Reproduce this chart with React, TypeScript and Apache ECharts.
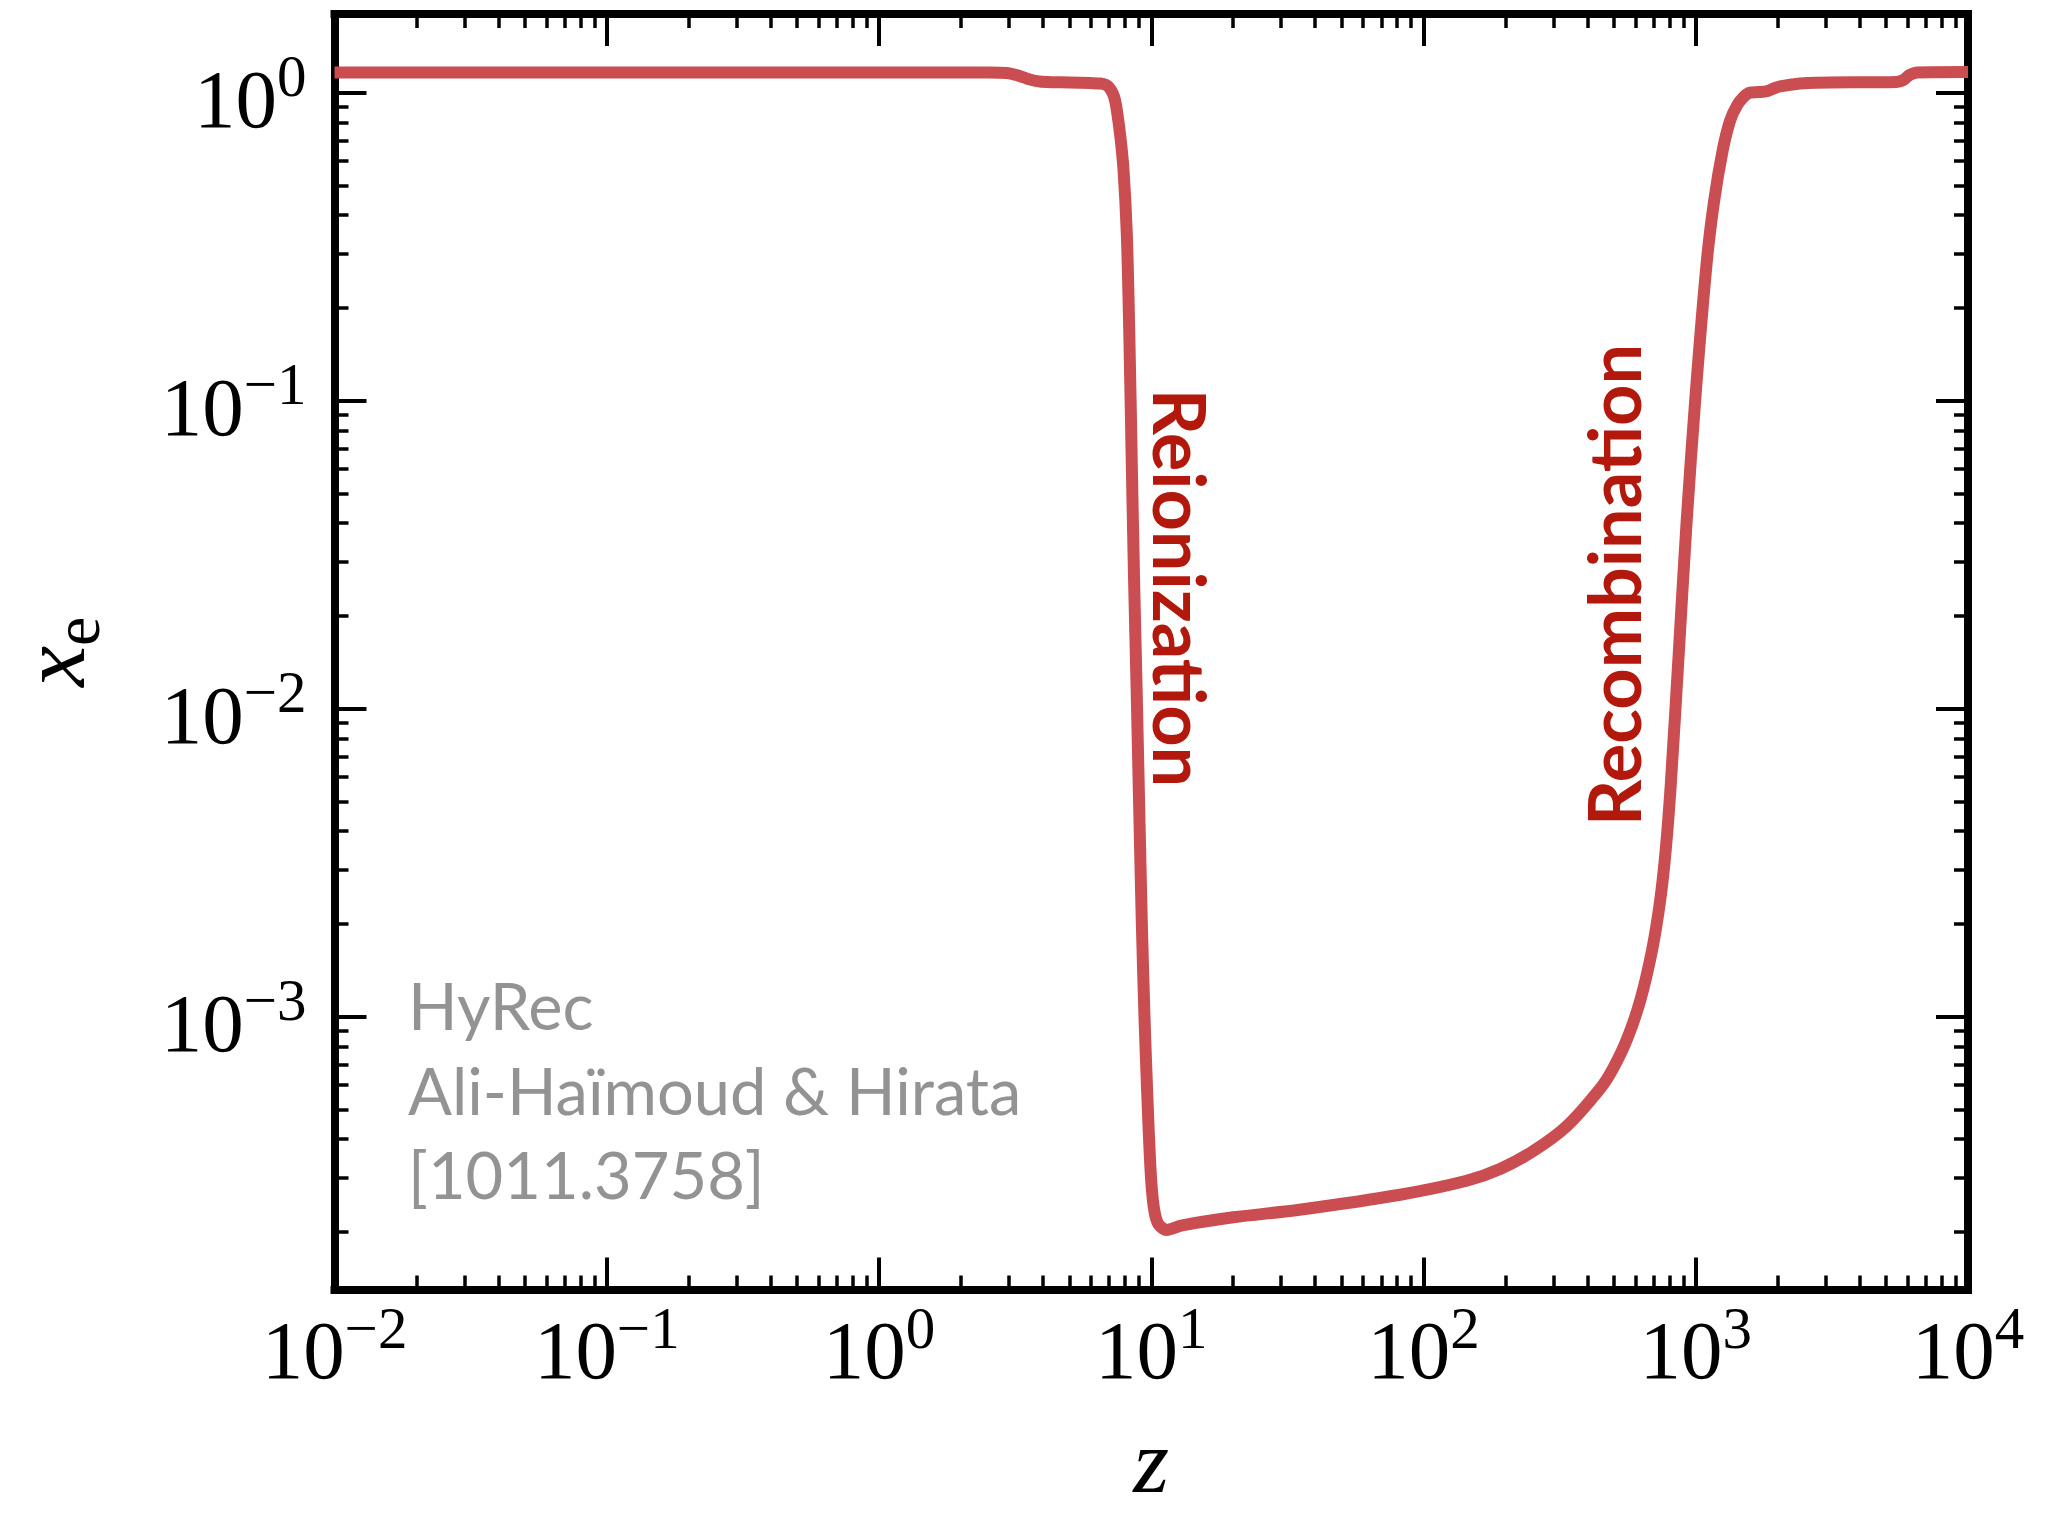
import React, { useEffect, useRef } from "react";
import * as echarts from "echarts";

// ---- data ----
const zValues = [
  0.01, 0.1, 1, 2.5, 2.95, 3.2, 3.5, 3.8, 4.14, 5.0, 6.0, 6.5, 6.8, 7.0, 7.2, 7.35, 7.5, 7.7, 7.9,
  8.13, 8.3, 8.48, 8.65, 8.84, 9.03, 9.23, 9.45, 9.7, 9.9, 10.1, 10.35, 10.7, 11.4, 13, 20, 35, 82,
  144, 191, 253, 336, 445, 495, 559, 627, 692, 741, 776, 810, 866, 925, 1000, 1098, 1169, 1256,
  1338, 1418, 1496, 1582, 1700, 1822, 1950, 2040, 2415, 2780, 4245, 5470, 5800, 6100, 6500, 10000,
];
const xeValues = [
  1.163, 1.163, 1.163, 1.162, 1.158, 1.14, 1.11, 1.09, 1.082, 1.079, 1.074, 1.07, 1.06, 1.04, 1.0,
  0.95, 0.86, 0.72, 0.57, 0.35, 0.17, 0.063, 0.026, 0.0114, 0.0048, 0.00204, 0.00098, 0.00052,
  0.00034, 0.000262, 0.000226, 0.00021, 0.000203, 0.00021, 0.000223, 0.000236, 0.000264, 0.000293,
  0.00032, 0.000366, 0.000441, 0.000583, 0.000674, 0.000844, 0.001137, 0.001652, 0.0024, 0.00349,
  0.00571, 0.0151, 0.04, 0.106, 0.283, 0.447, 0.65, 0.813, 0.909, 0.966, 1.0, 1.004, 1.01, 1.035,
  1.048, 1.07, 1.077, 1.081, 1.083, 1.1, 1.14, 1.163, 1.166,
];

const xRange = [0.01, 10000];
const yRange = [1.3e-4, 1.8];
const xMajorTicks = [0.01, 0.1, 1, 10, 100, 1000, 10000];
const yMajorTicks = [0.0001, 0.001, 0.01, 0.1, 1];
const minorMultipliers = [2, 3, 4, 5, 6, 7, 8, 9];

const xAxisTitle = "z";
const yAxisTitle = ["x", "e"];
const phaseLabels = ["Reionization", "Recombination"];
const creditLines = ["HyRec", "Ali-Haïmoud & Hirata", "[1011.3758]"];

// ---- helpers ----
const minorsOf = (majors: number[]) => {
  const out: number[] = [];
  majors.forEach((m) => {
    minorMultipliers.forEach((k) => out.push(Number((m * k).toPrecision(10))));
  });
  return out;
};

const SERIF = "'Liberation Serif', 'DejaVu Serif', serif";
const SANS = "Lato, 'Noto Sans', sans-serif";

const powLabel = (v: number) => {
  const e = Math.round(Math.log10(v));
  const s = e < 0 ? "\u2212" + Math.abs(e) : String(e);
  return `{b|10}{s|${s}}`;
};

const labelRich = {
  b: { fontFamily: SERIF, fontSize: 83, lineHeight: 95, padding: [12, 0, 0, 0], color: "#000" },
  s: { fontFamily: SERIF, fontSize: 59, lineHeight: 95, padding: [0, 0, 33, 0], color: "#000" },
};

const SPINE = { show: true, onZero: false, lineStyle: { color: "#000", width: 8, cap: "square" } };

function makeAxis(
  position: string,
  range: number[],
  ticks: number[],
  tickLen: number,
  withLine: boolean,
  extra: any = {}
) {
  return {
    type: "log",
    logBase: 10,
    gridIndex: 0,
    position,
    min: range[0],
    max: range[1],
    axisLine: withLine ? SPINE : { show: false },
    axisTick: {
      show: true,
      inside: true,
      length: tickLen,
      customValues: ticks,
      lineStyle: { color: "#000", width: tickLen > 20 ? 4 : 3.5 },
    },
    axisLabel: { show: false },
    splitLine: { show: false },
    minorTick: { show: false },
    minorSplitLine: { show: false },
    ...extra,
  };
}

export default function App() {
  const ref = useRef<HTMLDivElement>(null);

  useEffect(() => {
    if (!ref.current) return;
    const chart = echarts.init(ref.current, null, { renderer: "svg" });

    const xMinor = minorsOf(xMajorTicks);
    const yMinor = minorsOf(yMajorTicks);
    const data = zValues.map((z, i) => [z, xeValues[i]]);

    const option: any = {
      animation: false,
      backgroundColor: "#fff",
      grid: {
        left: 334.5,
        right: 82,
        top: 14,
        bottom: 223.5,
        containLabel: false,
        outerBoundsMode: "none",
      },
      xAxis: [
        makeAxis("bottom", xRange, xMajorTicks, 32, true, {
          axisLabel: {
            show: true,
            customValues: xMajorTicks,
            formatter: powLabel,
            margin: 7,
            rich: labelRich,
            color: "#000",
          },
          name: xAxisTitle,
          nameLocation: "middle",
          nameGap: 171,
          nameTextStyle: {
            fontFamily: SERIF,
            fontStyle: "italic",
            fontSize: 92,
            lineHeight: 76,
            color: "#000",
            align: "center",
            verticalAlign: "middle",
          },
        }),
        makeAxis("bottom", xRange, xMinor, 14, false),
        makeAxis("top", xRange, xMajorTicks, 32, true),
        makeAxis("top", xRange, xMinor, 14, false),
      ],
      yAxis: [
        makeAxis("left", yRange, yMajorTicks, 32, true, {
          axisLabel: {
            show: true,
            customValues: yMajorTicks,
            formatter: powLabel,
            margin: 28,
            rich: labelRich,
            color: "#000",
          },
          name: `{x|${yAxisTitle[0]}}{e|${yAxisTitle[1]}}`,
          nameLocation: "middle",
          nameRotate: 90,
          nameGap: 282,
          nameTextStyle: {
            align: "center",
            verticalAlign: "middle",
            rich: {
              x: { fontFamily: SERIF, fontStyle: "italic", fontSize: 92, lineHeight: 76, color: "#000" },
              e: { fontFamily: SERIF, fontSize: 66, lineHeight: 76, padding: [47, 0, 0, 0], color: "#000" },
            },
          },
        }),
        makeAxis("left", yRange, yMinor, 14, false),
        makeAxis("right", yRange, yMajorTicks, 32, true),
        makeAxis("right", yRange, yMinor, 14, false),
      ],
      series: [
        {
          type: "line",
          name: "HyRec x_e",
          xAxisIndex: 0,
          yAxisIndex: 0,
          data,
          showSymbol: false,
          symbol: "none",
          smooth: 0.3,
          clip: true,
          lineStyle: { color: "#CA4D51", width: 12, join: "round", cap: "butt" },
          z: 1,
        },
      ],
      graphic: [
        {
          type: "text",
          x: 1181,
          y: 588,
          rotation: -Math.PI / 2,
          z: 10,
          style: {
            text: phaseLabels[0],
            fill: "#B2180C",
            font: `bold 72px ${SANS}`,
            align: "center",
            verticalAlign: "middle",
          },
        },
        {
          type: "text",
          x: 1613,
          y: 585,
          rotation: Math.PI / 2,
          z: 10,
          style: {
            text: phaseLabels[1],
            fill: "#B2180C",
            font: `bold 72px ${SANS}`,
            align: "center",
            verticalAlign: "middle",
          },
        },
        ...creditLines.map((t, i) => ({
          type: "text",
          x: 408,
          y: 1005 + i * 84.5,
          z: 10,
          style: {
            text: t,
            fill: "#939393",
            font: `65px ${SANS}`,
            align: "left",
            verticalAlign: "middle",
          },
        })),
      ],
    };

    chart.setOption(option);
    return () => chart.dispose();
  }, []);

  return (
    <div
      ref={ref}
      style={{ position: "fixed", left: 0, top: 0, width: 2050, height: 1513, background: "#fff" }}
    />
  );
}
